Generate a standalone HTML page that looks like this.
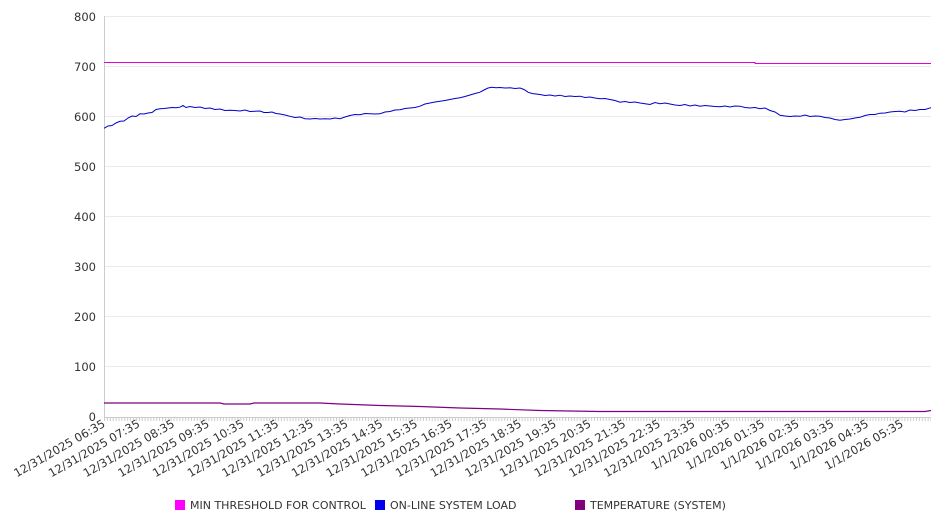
<!DOCTYPE html>
<html><head><meta charset="utf-8"><style>
body{margin:0;background:#fff;}
svg{display:block;font-family:"DejaVu Sans","Liberation Sans",sans-serif;}
</style></head><body>
<svg width="946" height="526" viewBox="0 0 946 526" xmlns="http://www.w3.org/2000/svg">
<g stroke="#ebebeb" stroke-width="1">
<line x1="104" y1="16.5" x2="931" y2="16.5"/><line x1="104" y1="66.5" x2="931" y2="66.5"/>
<line x1="104" y1="116.5" x2="931" y2="116.5"/><line x1="104" y1="166.5" x2="931" y2="166.5"/>
<line x1="104" y1="216.5" x2="931" y2="216.5"/><line x1="104" y1="266.5" x2="931" y2="266.5"/>
<line x1="104" y1="316.5" x2="931" y2="316.5"/><line x1="104" y1="366.5" x2="931" y2="366.5"/>
</g>
<line x1="104.5" y1="16" x2="104.5" y2="417" stroke="#ccc"/>
<line x1="104" y1="417.5" x2="931" y2="417.5" stroke="#ccc"/>
<line x1="104" y1="419.5" x2="931" y2="419.5" stroke="#ccc" stroke-width="3" stroke-dasharray="1 1.9"/>
<g font-size="11.5" fill="#333" text-anchor="end">
<text x="96" y="21">800</text><text x="96" y="71">700</text><text x="96" y="121">600</text>
<text x="96" y="171">500</text><text x="96" y="221">400</text><text x="96" y="271">300</text>
<text x="96" y="321">200</text><text x="96" y="371">100</text><text x="96" y="421">0</text>
</g>
<g font-size="11.5" fill="#333" text-anchor="end">
<text transform="translate(106,426) rotate(-30)">12/31/2025 06:35</text>
<text transform="translate(140.7,426) rotate(-30)">12/31/2025 07:35</text>
<text transform="translate(175.4,426) rotate(-30)">12/31/2025 08:35</text>
<text transform="translate(210.1,426) rotate(-30)">12/31/2025 09:35</text>
<text transform="translate(244.8,426) rotate(-30)">12/31/2025 10:35</text>
<text transform="translate(279.5,426) rotate(-30)">12/31/2025 11:35</text>
<text transform="translate(314.2,426) rotate(-30)">12/31/2025 12:35</text>
<text transform="translate(348.9,426) rotate(-30)">12/31/2025 13:35</text>
<text transform="translate(383.6,426) rotate(-30)">12/31/2025 14:35</text>
<text transform="translate(418.3,426) rotate(-30)">12/31/2025 15:35</text>
<text transform="translate(453,426) rotate(-30)">12/31/2025 16:35</text>
<text transform="translate(487.7,426) rotate(-30)">12/31/2025 17:35</text>
<text transform="translate(522.4,426) rotate(-30)">12/31/2025 18:35</text>
<text transform="translate(557.1,426) rotate(-30)">12/31/2025 19:35</text>
<text transform="translate(591.8,426) rotate(-30)">12/31/2025 20:35</text>
<text transform="translate(626.5,426) rotate(-30)">12/31/2025 21:35</text>
<text transform="translate(661.2,426) rotate(-30)">12/31/2025 22:35</text>
<text transform="translate(695.9,426) rotate(-30)">12/31/2025 23:35</text>
<text transform="translate(730.6,426) rotate(-30)">1/1/2026 00:35</text>
<text transform="translate(765.3,426) rotate(-30)">1/1/2026 01:35</text>
<text transform="translate(800,426) rotate(-30)">1/1/2026 02:35</text>
<text transform="translate(834.7,426) rotate(-30)">1/1/2026 03:35</text>
<text transform="translate(869.4,426) rotate(-30)">1/1/2026 04:35</text>
<text transform="translate(904.1,426) rotate(-30)">1/1/2026 05:35</text>
</g>
<polyline points="104,62.5 755,62.5 755,63.5 931,63.5" fill="none" stroke="#e000e0" stroke-width="1"/>
<polyline fill="none" stroke="#0000cc" stroke-width="1" points="104,128.3 108,126 112,125.5 116,123 120,121.3 124,121 128,118 132,116 136,116.5 140,113.8 144,114 148,113 152,112.5 156,109.5 160,108.7 164,108.5 168,108 172,107.5 176,107.8 180,107.2 183,105.5 186,107.5 190,106.5 195,107.5 200,107 205,108.5 210,108 215,109.5 220,109 225,110.5 230,110.2 235,110.5 240,111 245,110 250,111.5 255,111.2 260,111 264,112.5 268,112.5 272,112 276,113.5 280,114 285,115 290,116.3 295,117.5 300,117 305,118.7 310,119 315,118.5 320,119 325,118.7 330,119 335,118 340,118.7 345,117 350,115.5 355,114.5 360,114.7 365,113.5 370,113.8 375,114 380,113.8 385,112 390,111.5 395,110 400,109.7 405,108.5 410,108 415,107.5 420,106.2 425,104 430,103 435,102 440,101.2 445,100.5 450,99.5 455,98.5 460,97.7 465,96.5 470,95 475,93.5 480,92.2 484,90 488,88 492,87.2 496,87.7 500,87.5 505,88 510,87.8 515,88.5 520,88 524,89.5 528,92.2 532,93.5 536,94 540,94.5 545,95.5 550,95 555,96 560,95.2 565,96.5 570,96 575,96.5 580,96.2 585,97.5 590,97 595,98 600,98.7 605,98.5 610,99.5 615,100.5 620,102.2 625,101.5 630,102.5 635,102 640,103 645,103.7 650,104.5 655,102.5 660,103.7 665,103 670,104 675,105 680,105.5 685,104.5 690,106 695,105 700,106.2 705,105.5 710,106 715,106.5 720,106.8 725,106 730,107 735,106 740,106.2 745,107.5 750,108 755,107.5 760,108.7 765,108 770,110.5 775,112 780,115.3 785,116 790,116.5 795,116 800,116.3 805,115 810,116.5 815,116 820,116.3 825,117.5 830,118 835,119.5 840,120.3 845,119.5 850,119 855,118 860,117.3 865,115.5 870,114.5 875,114.5 880,113.2 885,113 890,112 895,111.5 900,111.2 905,112 910,110 915,110.5 920,109.5 925,109.5 931,107.7"/>
<polyline fill="none" stroke="#800080" stroke-width="1.2" points="104,403 220,403 224,404 250,404 254,403 320,403 340,404 380,405.5 420,406.5 460,408 500,409 540,410.5 570,411 600,411.5 925,411.5 931,410.5"/>
<g font-size="11" fill="#333">
<rect x="175" y="500" width="10" height="10" fill="#ff00ff"/><text x="190" y="509">MIN THRESHOLD FOR CONTROL</text>
<rect x="375" y="500" width="10" height="10" fill="#0000ee"/><text x="390" y="509">ON-LINE SYSTEM LOAD</text>
<rect x="575" y="500" width="10" height="10" fill="#800080"/><text x="590" y="509">TEMPERATURE (SYSTEM)</text>
</g>
</svg>
</body></html>
